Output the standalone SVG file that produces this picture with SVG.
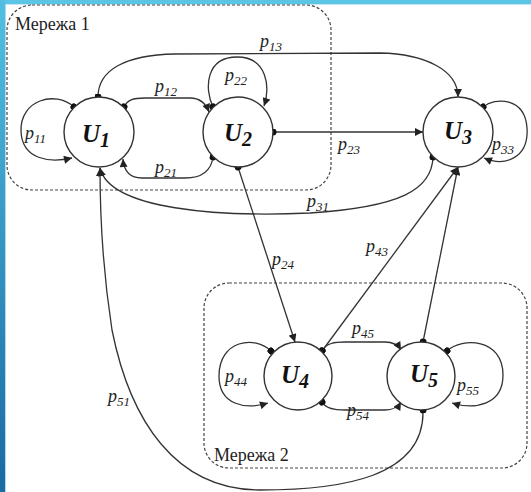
<svg xmlns="http://www.w3.org/2000/svg" width="531" height="492" viewBox="0 0 531 492">
  <defs>
    <linearGradient id="sideBar" x1="0" y1="0" x2="0" y2="1">
      <stop offset="0" stop-color="#52bfe2"/>
      <stop offset="1" stop-color="#1b6aa0"/>
    </linearGradient>
    <marker id="arrow" viewBox="0 0 10 10" refX="10" refY="5" markerUnits="userSpaceOnUse" markerWidth="9" markerHeight="8" orient="auto">
      <path d="M0,0 L10,5 L0,10 z" fill="#222"/>
    </marker>
    <marker id="dot" viewBox="0 0 10 10" refX="5" refY="5" markerUnits="userSpaceOnUse" markerWidth="7" markerHeight="7" orient="auto">
      <circle cx="5" cy="5" r="5" fill="#111"/>
    </marker>
  </defs>
  <style>
    .net { fill: none; stroke: #444; stroke-width: 1.2; stroke-dasharray: 3 2; }
    .node { fill: #fff; stroke: #333; stroke-width: 1.4; }
    .edge { fill: none; stroke: #333; stroke-width: 1.3; marker-start: url(#dot); marker-end: url(#arrow); }
    .lbl { font-family: "Liberation Serif", "Times New Roman", serif; font-style: italic; font-size: 18px; fill: #222; }
    .sub { font-size: 13px; }
    .nl { font-family: "Liberation Serif", "Times New Roman", serif; font-style: italic; font-weight: bold; font-size: 25px; fill: #111; }
    .nsub { font-size: 20px; }
    .cap { font-family: "Liberation Serif", "Times New Roman", serif; font-size: 18px; fill: #222; }
  </style>

  <rect x="0" y="0" width="531" height="492" fill="#fff"/>

  <!-- frame accents -->
  <rect x="0" y="0" width="531" height="4" fill="#5cc4e4"/>
  <rect x="0" y="4" width="531" height="1" fill="#c2e8f5"/>
  <rect x="0" y="0" width="5" height="492" fill="url(#sideBar)"/>
  <rect x="5" y="4" width="1" height="488" fill="#a9dcf0"/>

  <!-- network groupings -->
  <g id="net1">
    <rect class="net" x="7" y="5" width="324" height="185" rx="25" ry="25"/>
    <text class="cap" x="15" y="30">Мережа 1</text>
  </g>
  <g id="net2">
    <rect class="net" x="204" y="283" width="323" height="185" rx="25" ry="25"/>
    <text class="cap" x="214" y="461">Мережа 2</text>
  </g>

  <!-- transitions -->
  <g id="connectors">
    <path id="e11" class="edge" d="M74,107 C55,90 20,100 21,131 C22,160 50,163 72,158"/>
    <path id="e12" class="edge" d="M124,107 C127,100 133,98 145,98 L190,98 C200,98 206,104 209,112"/>
    <path id="e21" class="edge" d="M213,157 C211,172 200,178 185,178 L142,178 C130,178 124,172 123,159"/>
    <path id="e22" class="edge" d="M213,107 C204,88 206,57 237,57 C268,57 270,88 264,106"/>
    <path id="e13" class="edge" d="M98,97 C98,70 125,55 175,54 L380,53 C425,54 458,70 458,97"/>
    <path id="e23" class="edge" d="M273,132 L423,132"/>
    <path id="e33" class="edge" d="M483,107 C495,97 525,97 527,128 C529,158 505,167 484,158"/>
    <path id="e31" class="edge" d="M433,157 C432,190 400,207 310,213 C220,217 110,210 100,168"/>
    <path id="e51" class="edge" d="M423,410 C425,478 340,490 260,490 C175,490 130,420 112,330 C105,285 100,230 100,168"/>
    <path id="e24" class="edge" d="M238,167 L295,342"/>
    <path id="e43" class="edge" d="M322,351 L458,167"/>
    <path id="e53" class="edge" d="M423,342 L458,167"/>
    <path id="e45" class="edge" d="M322,351 C326,343 335,342 345,342 L385,342 C393,342 398,345 401,350"/>
    <path id="e54" class="edge" d="M322,402 C326,409 335,410 345,410 L385,410 C393,410 398,407 401,402"/>
    <path id="e44" class="edge" d="M271,351 C255,335 219,340 219,376 C219,405 245,410 268,403"/>
    <path id="e55" class="edge" d="M447,351 C462,337 503,338 503,375 C503,405 475,410 452,403"/>
  </g>

  <g id="edge-labels">
    <text class="lbl" x="25" y="139">p<tspan class="sub" dy="4">11</tspan></text>
    <text class="lbl" x="155" y="92">p<tspan class="sub" dy="4">12</tspan></text>
    <text class="lbl" x="155" y="173">p<tspan class="sub" dy="4">21</tspan></text>
    <text class="lbl" x="225" y="81">p<tspan class="sub" dy="4">22</tspan></text>
    <text class="lbl" x="260" y="47">p<tspan class="sub" dy="4">13</tspan></text>
    <text class="lbl" x="338" y="150">p<tspan class="sub" dy="4">23</tspan></text>
    <text class="lbl" x="492" y="150">p<tspan class="sub" dy="4">33</tspan></text>
    <text class="lbl" x="307" y="207">p<tspan class="sub" dy="4">31</tspan></text>
    <text class="lbl" x="272" y="265">p<tspan class="sub" dy="4">24</tspan></text>
    <text class="lbl" x="366" y="252">p<tspan class="sub" dy="4">43</tspan></text>
    <text class="lbl" x="352" y="334">p<tspan class="sub" dy="4">45</tspan></text>
    <text class="lbl" x="347" y="416">p<tspan class="sub" dy="4">54</tspan></text>
    <text class="lbl" x="225" y="382">p<tspan class="sub" dy="4">44</tspan></text>
    <text class="lbl" x="457" y="391">p<tspan class="sub" dy="4">55</tspan></text>
    <text class="lbl" x="108" y="402">p<tspan class="sub" dy="4">51</tspan></text>
  </g>

  <!-- states -->
  <g id="U1">
    <circle class="node" cx="99" cy="132" r="35"/>
    <text class="nl" x="82" y="142">U<tspan class="nsub" dy="5">1</tspan></text>
  </g>
  <g id="U2">
    <circle class="node" cx="238" cy="132" r="35"/>
    <text class="nl" x="224" y="141">U<tspan class="nsub" dy="5">2</tspan></text>
  </g>
  <g id="U3">
    <circle class="node" cx="458" cy="132" r="35"/>
    <text class="nl" x="444" y="139">U<tspan class="nsub" dy="5">3</tspan></text>
  </g>
  <g id="U4">
    <circle class="node" cx="298" cy="376" r="34"/>
    <text class="nl" x="281" y="383">U<tspan class="nsub" dy="5">4</tspan></text>
  </g>
  <g id="U5">
    <circle class="node" cx="421" cy="376" r="34"/>
    <text class="nl" x="410" y="382">U<tspan class="nsub" dy="5">5</tspan></text>
  </g>
</svg>
